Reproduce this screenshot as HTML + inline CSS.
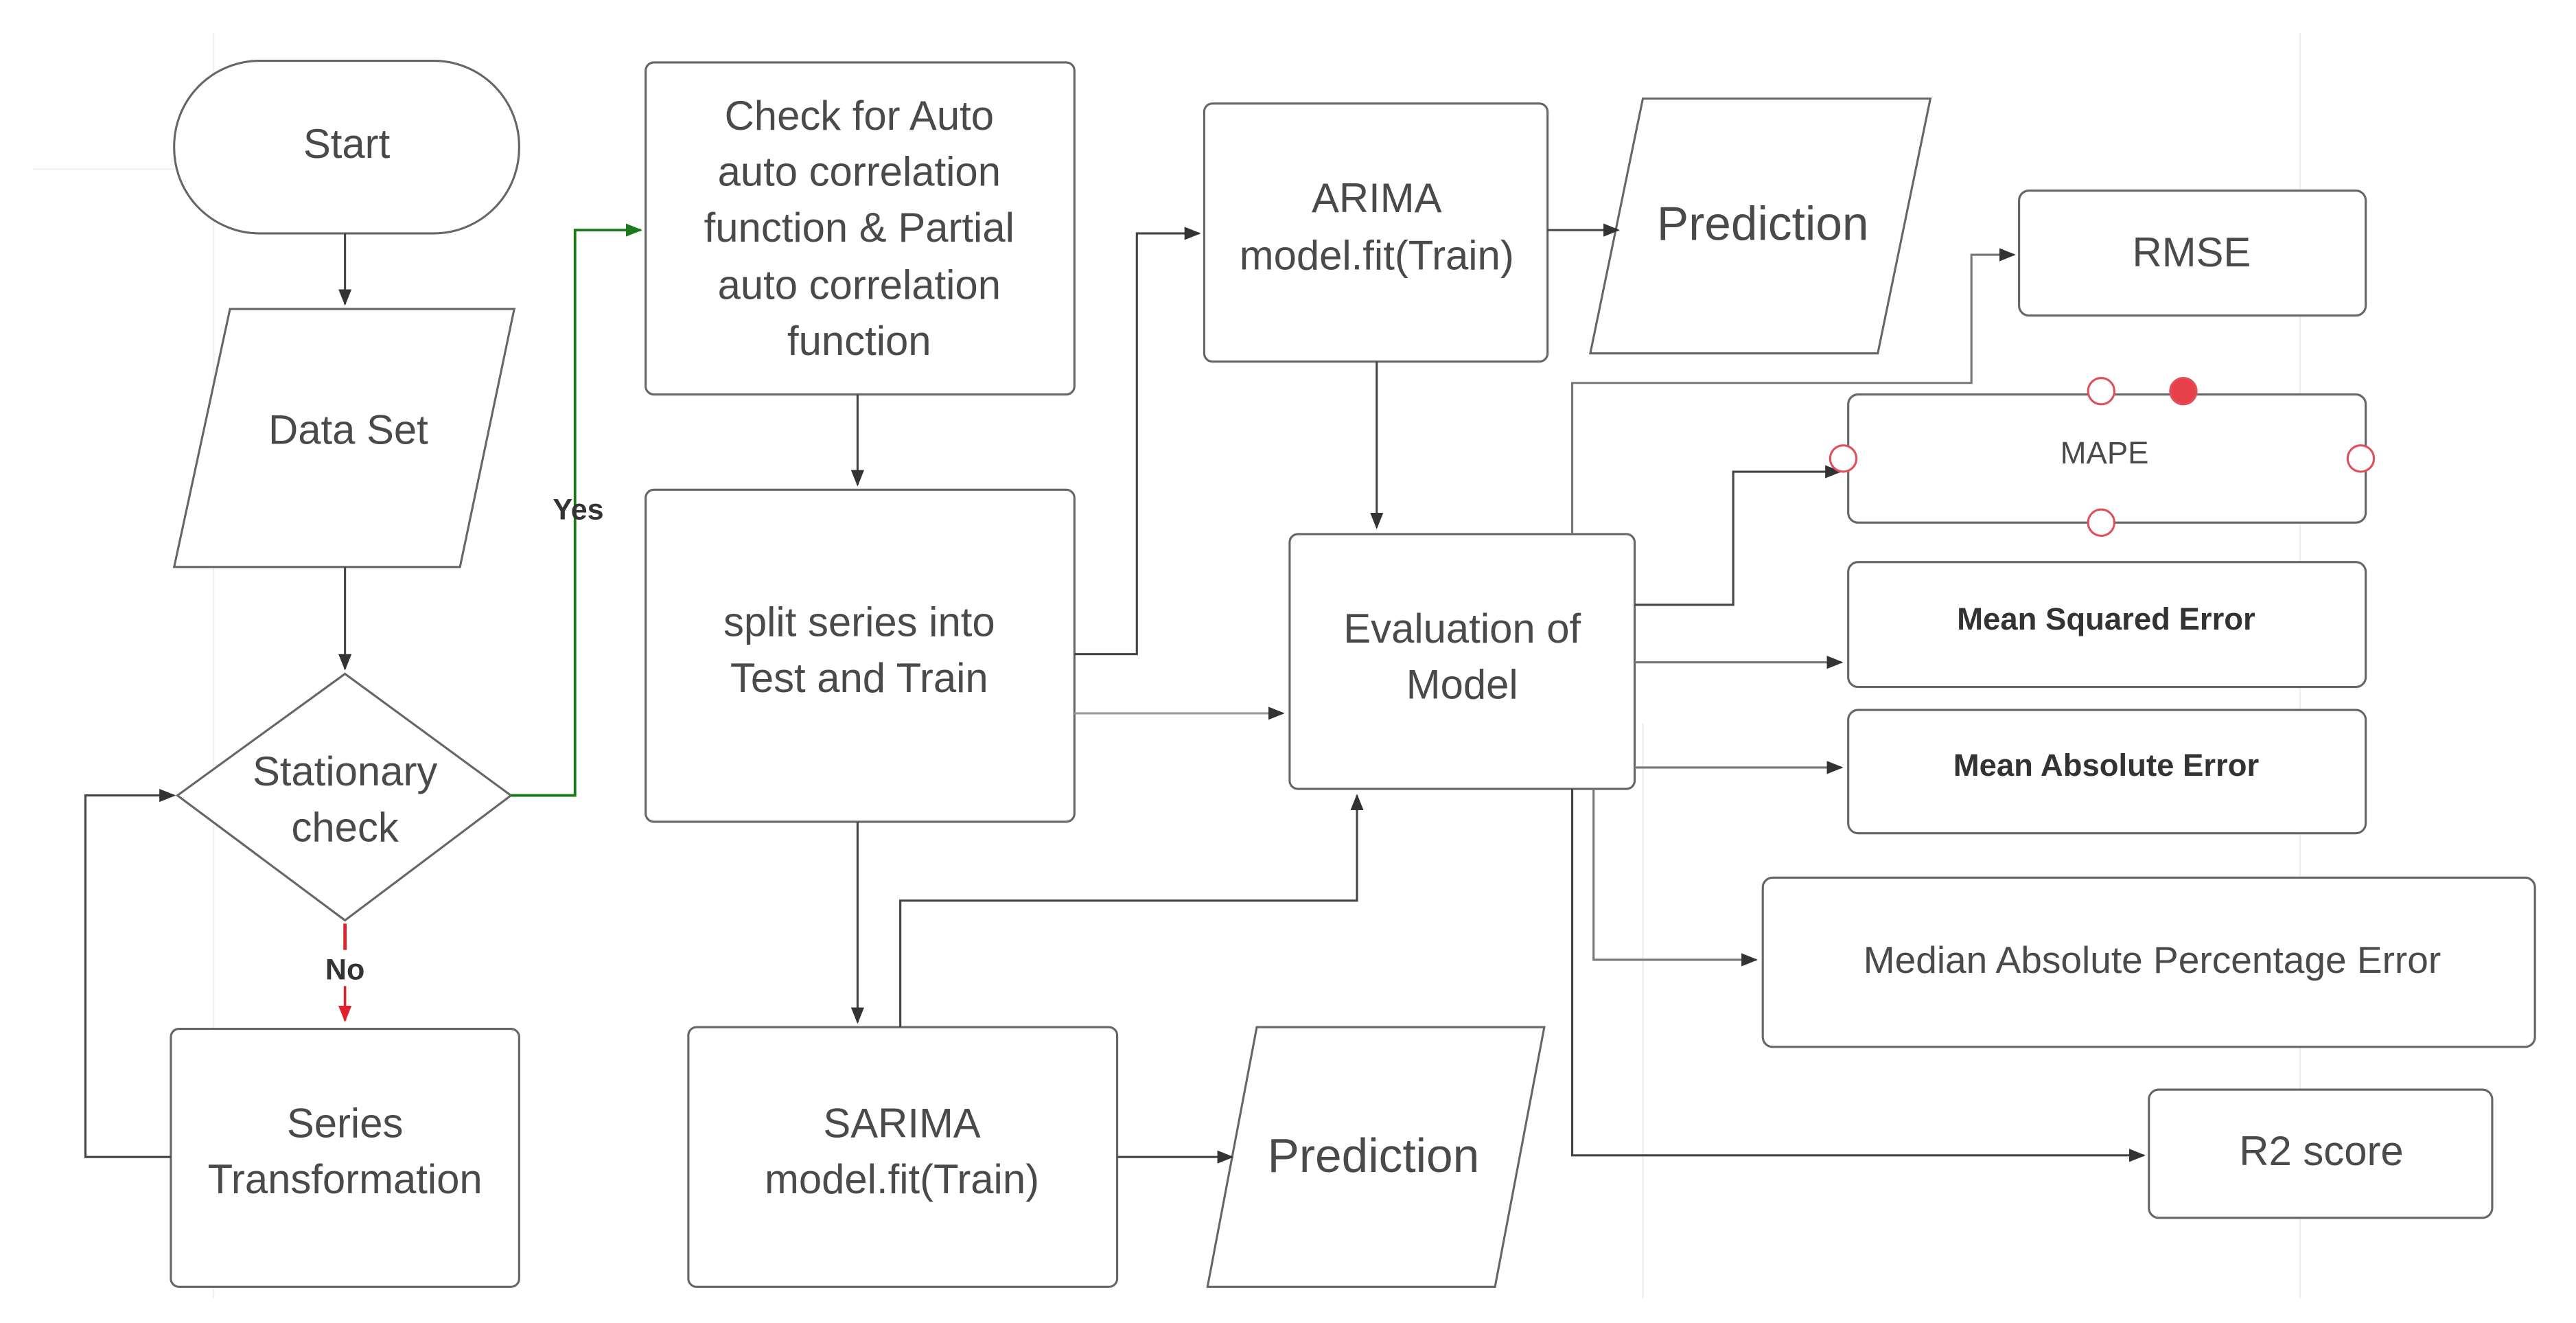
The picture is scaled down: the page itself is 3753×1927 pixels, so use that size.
<!DOCTYPE html>
<html><head><meta charset="utf-8"><style>
html,body{margin:0;padding:0;background:#fff;}
svg{display:block;}
text{font-family:"Liberation Sans",sans-serif;fill:#4a4a4a;text-anchor:middle;}
</style></head><body>
<svg width="3753" height="1927" viewBox="0 0 1568 805" preserveAspectRatio="none" xmlns="http://www.w3.org/2000/svg">
<defs>
<marker id="a" markerWidth="10" markerHeight="10" refX="9" refY="5" orient="auto" markerUnits="userSpaceOnUse"><path d="M0,1 L10,5 L0,9 Z" fill="#333"/></marker>
<marker id="g" markerWidth="10" markerHeight="10" refX="9" refY="5" orient="auto" markerUnits="userSpaceOnUse"><path d="M0,1 L10,5 L0,9 Z" fill="#1a7a1a"/></marker>
<marker id="r" markerWidth="10" markerHeight="10" refX="9" refY="5" orient="auto" markerUnits="userSpaceOnUse"><path d="M0,1 L10,5 L0,9 Z" fill="#e0202a"/></marker>
</defs>
<g stroke="#f0f0f0" stroke-width="1">
<line x1="130" y1="20" x2="130" y2="790"/><line x1="20" y1="103" x2="280" y2="103"/>
<line x1="1400" y1="20" x2="1400" y2="790"/><line x1="1000" y1="440" x2="1000" y2="790"/>
</g>
<g fill="#fff" stroke="#666" stroke-width="1.3">
<rect x="106" y="37" width="210" height="105" rx="52"/>
<path d="M140,188 L313,188 L280,345 L106,345 Z"/>
<path d="M210,410 L311,484 L210,560 L108,484 Z"/>
<rect x="104" y="626" width="212" height="157" rx="5"/>
<rect x="393" y="38" width="261" height="202" rx="5"/>
<rect x="393" y="298" width="261" height="202" rx="5"/>
<rect x="419" y="625" width="261" height="158" rx="5"/>
<path d="M765,625 L940,625 L910,783 L735,783 Z"/>
<rect x="733" y="63" width="209" height="157" rx="5"/>
<path d="M1000,60 L1175,60 L1143,215 L968,215 Z"/>
<rect x="785" y="325" width="210" height="155" rx="5"/>
<rect x="1229" y="116" width="211" height="76" rx="6"/>
<rect x="1125" y="240" width="315" height="78" rx="6"/>
<rect x="1125" y="342" width="315" height="76" rx="6"/>
<rect x="1125" y="432" width="315" height="75" rx="6"/>
<rect x="1073" y="534" width="470" height="103" rx="6"/>
<rect x="1308" y="663" width="209" height="78" rx="6"/>
</g>
<g fill="none" stroke="#444" stroke-width="1.3">
<line x1="210" y1="142" x2="210" y2="185" marker-end="url(#a)"/>
<line x1="210" y1="345" x2="210" y2="407" marker-end="url(#a)"/>
<polyline points="104,704 52,704 52,484 106,484" marker-end="url(#a)"/>
<line x1="522" y1="240" x2="522" y2="295" marker-end="url(#a)"/>
<polyline points="654,398 692,398 692,142 730,142" marker-end="url(#a)"/>
<line x1="654" y1="434" x2="781" y2="434" stroke="#999" marker-end="url(#a)"/>
<line x1="522" y1="500" x2="522" y2="622" marker-end="url(#a)"/>
<polyline points="548,625 548,548 826,548 826,484" marker-end="url(#a)"/>
<line x1="680" y1="704" x2="750" y2="704" marker-end="url(#a)"/>
<line x1="942" y1="140" x2="985" y2="140" marker-end="url(#a)"/>
<line x1="838" y1="220" x2="838" y2="321" marker-end="url(#a)"/>
<polyline points="957,325 957,233 1200,233 1200,155 1226,155" stroke="#777" marker-end="url(#a)"/>
<polyline points="995,368 1055,368 1055,287 1120,287" marker-end="url(#a)"/>
<line x1="995" y1="403" x2="1121" y2="403" stroke="#777" marker-end="url(#a)"/>
<line x1="995" y1="467" x2="1121" y2="467" stroke="#777" marker-end="url(#a)"/>
<polyline points="970,480 970,584 1069,584" stroke="#777" marker-end="url(#a)"/>
<polyline points="957,480 957,703 1305,703" marker-end="url(#a)"/>
</g>
<polyline points="311,484 350,484 350,140 390,140" fill="none" stroke="#1a7a1a" stroke-width="1.6" marker-end="url(#g)"/>
<line x1="210" y1="562" x2="210" y2="578" stroke="#e0202a" stroke-width="2"/>
<line x1="210" y1="600" x2="210" y2="621" stroke="#e0202a" stroke-width="1.5" marker-end="url(#r)"/>
<g stroke="#e0505a" stroke-width="1.3" fill="#fff">
<circle cx="1279" cy="238" r="8"/><circle cx="1122" cy="279" r="8"/><circle cx="1437" cy="279" r="8"/><circle cx="1279" cy="318" r="8"/>
<circle cx="1329" cy="238" r="8" fill="#e8404a"/>
</g>
<g font-size="25">
<text x="211" y="96">Start</text>
<text x="212" y="270">Data Set</text>
<text x="210" y="478">Stationary</text>
<text x="210" y="512">check</text>
<text x="210" y="692">Series</text>
<text x="210" y="726">Transformation</text>
<text x="523" y="79">Check for Auto</text>
<text x="523" y="113">auto correlation</text>
<text x="523" y="147">function &amp; Partial</text>
<text x="523" y="182">auto correlation</text>
<text x="523" y="216">function</text>
<text x="523" y="387">split series into</text>
<text x="523" y="421">Test and Train</text>
<text x="549" y="692">SARIMA</text>
<text x="549" y="726">model.fit(Train)</text>
<text x="838" y="129">ARIMA</text>
<text x="838" y="164">model.fit(Train)</text>
<text x="890" y="391">Evaluation of</text>
<text x="890" y="425">Model</text>
<text x="1334" y="162">RMSE</text>
<text x="1413" y="709">R2 score</text>
</g>
<g font-size="29">
<text x="1073" y="146">Prediction</text>
<text x="836" y="713">Prediction</text>
</g>
<text x="1310" y="592" font-size="23">Median Absolute Percentage Error</text>
<g font-size="19" style="fill:#222">
<text x="1281" y="282">MAPE</text>
<text x="1282" y="383" font-weight="bold" style="fill:#333">Mean Squared Error</text>
<text x="1282" y="472" font-weight="bold" style="fill:#333">Mean Absolute Error</text>
</g>
<text x="352" y="316" font-size="18" font-weight="bold" style="fill:#333">Yes</text>
<text x="210" y="596" font-size="18" font-weight="bold" style="fill:#333">No</text>
</svg>
</body></html>
